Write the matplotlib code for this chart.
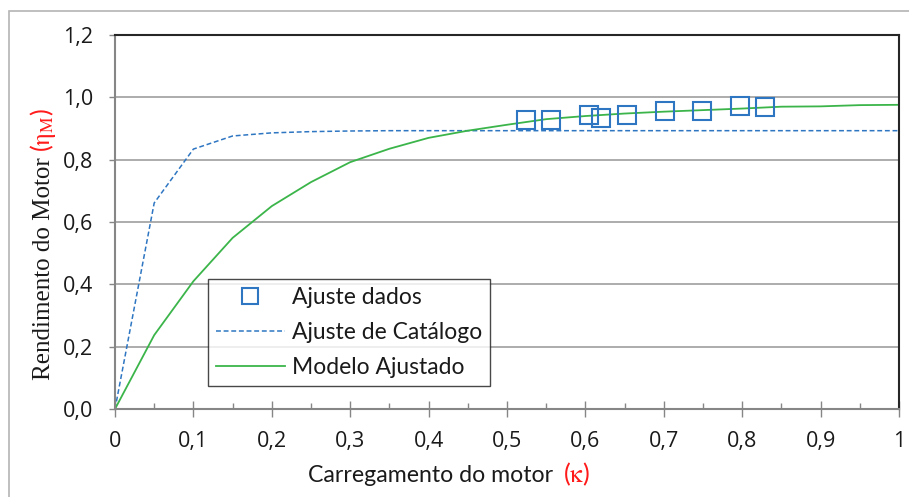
import matplotlib
matplotlib.use("Agg")
import matplotlib.pyplot as plt
from matplotlib.patches import Rectangle
from matplotlib.ticker import MultipleLocator

# ---- data ----
kappa_curve = [0.0, 0.05, 0.10, 0.15, 0.20, 0.25, 0.30, 0.35, 0.40, 0.45, 0.50,
               0.55, 0.60, 0.65, 0.70, 0.75, 0.80, 0.85, 0.90, 0.95, 1.00]
catalogo = [0.0, 0.661, 0.834, 0.876, 0.886, 0.890, 0.892, 0.893, 0.893, 0.893, 0.893,
            0.893, 0.893, 0.893, 0.893, 0.893, 0.893, 0.893, 0.893, 0.893, 0.893]
modelo = [0.0, 0.237, 0.410, 0.549, 0.651, 0.728, 0.792, 0.835, 0.870, 0.893, 0.912,
          0.930, 0.940, 0.948, 0.954, 0.959, 0.964, 0.970, 0.971, 0.975, 0.976]
kappa_dados = [0.524, 0.556, 0.605, 0.620, 0.653, 0.701, 0.749, 0.797, 0.829]
eta_dados = [0.928, 0.926, 0.944, 0.935, 0.943, 0.956, 0.956, 0.971, 0.968]

xtick_vals = [0.0, 0.1, 0.2, 0.3, 0.4, 0.5, 0.6, 0.7, 0.8, 0.9, 1.0]
xtick_labels = ["0", "0,1", "0,2", "0,3", "0,4", "0,5", "0,6", "0,7", "0,8", "0,9", "1"]
ytick_vals = [0.0, 0.2, 0.4, 0.6, 0.8, 1.0, 1.2]
ytick_labels = ["0,0", "0,2", "0,4", "0,6", "0,8", "1,0", "1,2"]

series_labels = ["Ajuste dados", "Ajuste de Catálogo", "Modelo Ajustado"]

# ---- style ----
plt.rcParams['font.family'] = ['Lato', 'DejaVu Sans']
plt.rcParams['mathtext.fontset'] = 'stix'

BLUE = '#2e76c2'
GREEN = '#3bb54a'
GREY = '#868686'
TXT = '#1a1a1a'
RED = '#ff1a1a'

W, H = 909, 497
fig = plt.figure(figsize=(W / 100, H / 100), dpi=100)
ax = fig.add_axes([115 / W, 1 - 409 / H, (899 - 115) / W, (409 - 35) / H])

# outer chart frame
fig.patches.append(Rectangle((8.5 / W, -0.2), 1.2, 1 - 11.5 / H + 0.2,
                             transform=fig.transFigure, fill=False,
                             edgecolor='#b4b4b4', linewidth=1.2, zorder=0))

ax.set_xlim(0, 1)
ax.set_ylim(0, 1.2)

# grid
for yv in ytick_vals[1:-1]:
    ax.axhline(yv, color='#a6a6a6', linewidth=1.3, zorder=0)

ln_cat, = ax.plot(kappa_curve, catalogo, color=BLUE, linewidth=1.1,
                  linestyle=(0, (3.2, 1.8)), zorder=2)
ln_mod, = ax.plot(kappa_curve, modelo, color=GREEN, linewidth=1.3, zorder=2)
ln_dat, = ax.plot(kappa_dados, eta_dados, linestyle='none', marker='s',
                  markersize=13, markerfacecolor='none', markeredgecolor=BLUE,
                  markeredgewidth=1.5, zorder=3)

ax.set_xticks(xtick_vals)
ax.set_xticklabels(xtick_labels, family=['Open Sans', 'DejaVu Sans'])
ax.xaxis.set_minor_locator(MultipleLocator(0.05))
ax.set_yticks(ytick_vals)
ax.set_yticklabels(ytick_labels, family=['Open Sans', 'DejaVu Sans'])

ax.tick_params(axis='x', which='major', direction='inout', length=11.5, width=1.0,
               color=GREY, labelsize=15.5, labelcolor=TXT, pad=10)
ax.tick_params(axis='x', which='minor', direction='in', length=4.3, width=1.0,
               color=GREY)
ax.tick_params(axis='y', which='major', direction='out', length=4.5, width=1.0,
               color=GREY, labelsize=15.5, labelcolor=TXT, pad=11)

for s in ['left', 'bottom']:
    ax.spines[s].set_color(GREY)
    ax.spines[s].set_linewidth(1.5)
for s in ['top', 'right']:
    ax.spines[s].set_color('#262626')
    ax.spines[s].set_linewidth(1.5)

# legend
leg = ax.legend([ln_dat, ln_cat, ln_mod], series_labels, loc='lower left',
                bbox_to_anchor=((208 - 115) / 784, (409 - 386) / 374),
                borderaxespad=0, fontsize=16.5, frameon=True, fancybox=False,
                edgecolor='#1a1a1a', handlelength=3.0, handletextpad=0.3,
                labelspacing=0.6, borderpad=0.35, labelcolor=TXT)
leg.get_frame().set_linewidth(1.0)
leg.legend_handles[0].set_markersize(11)

# y label (serif) with red part
t1 = fig.text(50 / W, 1 - 380 / H, "Rendimento do Motor", rotation=90,
              rotation_mode='anchor', ha='left', va='baseline',
              family=['Liberation Serif', 'DejaVu Serif'], fontsize=18, color=TXT)
ax.annotate(r"($\mathrm{\eta}_{\mathrm{M}}$)", xy=(50 / W, 1),
            xycoords=('figure fraction', t1),
            xytext=(0, 4), textcoords='offset points', rotation=90,
            rotation_mode='anchor', ha='left', va='baseline',
            fontsize=18, color=RED, annotation_clip=False)

# x label with red part
t2 = fig.text(308 / W, 1 - 482.5 / H, "Carregamento do motor", ha='left',
              va='baseline', fontsize=16.7, color=TXT)
ax.annotate(r"($\mathrm{\kappa}$)", xy=(1, 1 - 482.5 / H), xycoords=(t2, 'figure fraction'),
            xytext=(7, 0), textcoords='offset points', ha='left', va='baseline',
            fontsize=18, color=RED, annotation_clip=False)

fig.savefig("out.png", dpi=100)
